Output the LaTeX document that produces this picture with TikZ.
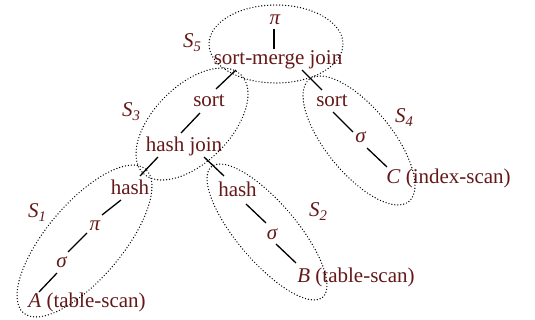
\documentclass[tikz,border=0pt]{standalone}
\usepackage{fontspec}
\setmainfont{Liberation Serif}
\usetikzlibrary{calc}
\definecolor{opcolor}{RGB}{100,24,24}
\tikzset{
  op/.style={anchor=base, inner sep=0pt, text=opcolor, font=\fontsize{21}{25}\selectfont},
  stagelabel/.style={anchor=base west, inner sep=0pt, text=opcolor, font=\fontsize{21}{25}\selectfont\itshape},
  edge/.style={line width=1.3pt, black},
  stage/.style={line width=1.4pt, line cap=round, dash pattern=on 0pt off 3pt, black}
}
\newcommand{\stg}[1]{S\textsubscript{#1}}
\begin{document}
\begin{tikzpicture}[x=1pt, y=-1pt]
\useasboundingbox (0,0) rectangle (535,320);

% operator nodes
\node[op] (piT)   at (275,25)  {\textit{π}};
\node[op] (smj)   at (278,65)  {sort-merge join};
\node[op] (sortL) at (209,107) {sort};
\node[op] (sortR) at (332,107) {sort};
\node[op] (hj)    at (184,152) {hash join};
\node[op] (hashL) at (130,195) {hash};
\node[op] (hashR) at (237.5,197) {hash};
\node[op] (piA)   at (95,231)  {\textit{π}};
\node[op] (sigA)  at (62,268)  {\textit{σ}};
\node[op] (A)     at (87,307)  {\textit{A} (table-scan)};
\node[op] (sigB)  at (272.5,240) {\textit{σ}};
\node[op] (B)     at (356,282) {\textit{B} (table-scan)};
\node[op] (sigC)  at (361,143) {\textit{σ}};
\node[op] (C)     at (448.5,184) {\textit{C} (index-scan)};

% plan edges
\draw[edge] ($(piT.base)+(-1,4)$)    -- ($(smj.base)+(-4,-16)$);
\draw[edge] ($(smj.base)+(-42,5)$)   -- ($(sortL.base)+(7,-18)$);
\draw[edge] ($(smj.base)+(24,5)$)    -- ($(sortR.base)+(-10,-17)$);
\draw[edge] ($(sortL.base)+(-9,6)$)  -- ($(hj.base)+(-3,-19)$);
\draw[edge] ($(hj.base)+(-26,5)$)    -- ($(hashL.base)+(10,-19)$);
\draw[edge] ($(hj.base)+(20,5)$)     -- ($(hashR.base)+(-13.5,-21)$);
\draw[edge] ($(hashL.base)+(-9,5)$)  -- ($(piA.base)+(7,-16)$);
\draw[edge] ($(piA.base)+(-8,2)$)    -- ($(sigA.base)+(6,-16)$);
\draw[edge] ($(sigA.base)+(-5,5)$)   -- ($(A.base)+(-48,-15)$);
\draw[edge] ($(hashR.base)+(8.5,7)$) -- ($(sigB.base)+(-6.5,-17)$);
\draw[edge] ($(sigB.base)+(3.5,4)$)  -- ($(B.base)+(-60,-19)$);
\draw[edge] ($(sortR.base)+(1,5)$)   -- ($(sigC.base)+(-8,-11)$);
\draw[edge] ($(sigC.base)+(6,5)$)    -- ($(C.base)+(-61.5,-17)$);

% stage outlines
\coordinate (c5) at (276,44);
\coordinate (c3) at (192,124);
\coordinate (c1) at (84.5,241);
\coordinate (c2) at (267,232);
\coordinate (c4) at (359,140.5);
\draw[stage] (c5) ellipse [x radius=67pt, y radius=39pt];
\draw[stage, rotate around={45:(c3)}] (c3) ellipse [x radius=69.4pt, y radius=38.2pt];
\draw[stage, rotate around={49.7:(c1)}] (c1) ellipse [x radius=94.3pt, y radius=37.8pt];
\draw[stage, rotate around={-49.55:(c2)}] (c2) ellipse [x radius=85.7pt, y radius=29.6pt];
\draw[stage, rotate around={-50.75:(c4)}] (c4) ellipse [x radius=78.8pt, y radius=32.9pt];

% stage labels
\node[stagelabel] (s5) at (183,48)  {\stg{5}};
\node[stagelabel] (s3) at (122,117) {\stg{3}};
\node[stagelabel] (s1) at (28,218)  {\stg{1}};
\node[stagelabel] (s2) at (309,217) {\stg{2}};
\node[stagelabel] (s4) at (395,123) {\stg{4}};
\end{tikzpicture}
\end{document}
